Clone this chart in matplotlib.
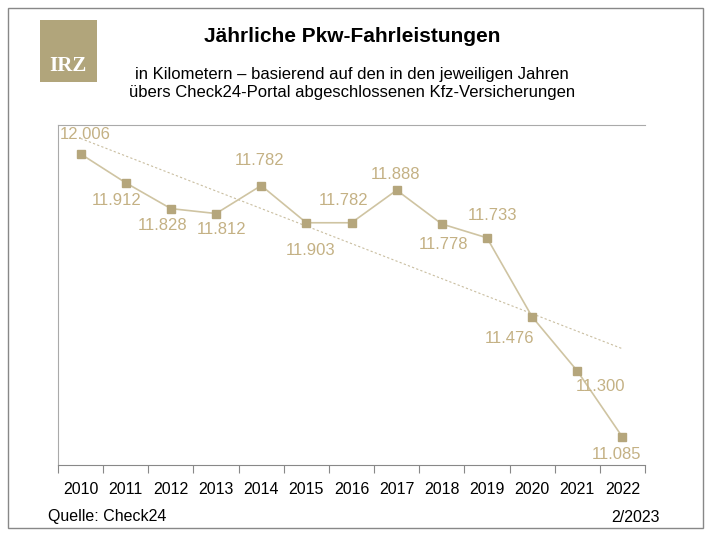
import numpy as np
import matplotlib
matplotlib.use('Agg')
import matplotlib.pyplot as plt
from matplotlib.patches import Rectangle

years = ["2010", "2011", "2012", "2013", "2014", "2015", "2016",
         "2017", "2018", "2019", "2020", "2021", "2022"]
km = [12006, 11912, 11828, 11812, 11903, 11782, 11782,
      11888, 11778, 11733, 11476, 11300, 11085]
# labels as printed in the original (2014/2015 appear swapped there)
labels = ["12.006", "11.912", "11.828", "11.812", "11.782", "11.903", "11.782",
          "11.888", "11.778", "11.733", "11.476", "11.300", "11.085"]

# label offsets in pixels (dx right, dy down)
offs = [(5, -19), (-9, 18), (-8, 17), (6, 16), (-2, -25), (4, 28), (-8, -22),
        (-1, -16), (2, 21), (6, -22), (-23, 22), (23, 16), (-6, 17)]

gold = "#b5a67c"
txt = "#c4b184"

W, H = 711, 533
fig = plt.figure(figsize=(W / 100, H / 100), dpi=100)
fig.patches.append(Rectangle((8 / W, 5 / H), 695 / W, 520 / H, transform=fig.transFigure,
                             fill=False, edgecolor="#888888", lw=1))
fig.patches.append(Rectangle((40 / W, 1 - 82 / H), 57 / W, 62 / H, transform=fig.transFigure,
                             facecolor="#b1a57b", edgecolor="none"))
fig.text(68 / W, 1 - 66 / H, "IRZ", color="white", fontsize=15, family="Liberation Serif",
         fontweight="bold", ha="center", va="center")

fig.text(352 / W, 1 - 36 / H, "Jährliche Pkw-Fahrleistungen", fontsize=15, fontweight="bold",
         ha="center", va="center", family="Liberation Sans")
fig.text(352 / W, 1 - 84 / H, "in Kilometern – basierend auf den in den jeweiligen Jahren\n"
         "übers Check24-Portal abgeschlossenen Kfz-Versicherungen",
         fontsize=12, ha="center", va="center", family="Liberation Sans", linespacing=1.25)

ax = fig.add_axes([58 / W, 1 - 465 / H, 587 / W, 340 / H])
x = np.arange(len(years))
coef = np.polyfit(x, km, 1)
ax.plot(x, np.polyval(coef, x), ls=(0, (2, 2)), color="#c9bea0", lw=0.8)
ax.plot(x, km, color="#cfc4a2", lw=1.2, marker="s", ms=6, mfc=gold, mec=gold)

for i, (v, l) in enumerate(zip(km, labels)):
    dx, dy = offs[i]
    ax.annotate(l, (i, v), xytext=(dx * 0.72, -dy * 0.72), textcoords="offset points",
                ha="center", va="center", color=txt, fontsize=12, family="Liberation Sans")

ax.set_xlim(-0.5, 12.5)
ax.set_ylim(10994, 12100)
ax.set_yticks([])
ax.set_xticks(np.arange(-0.5, 13, 1))
ax.set_xticklabels([])
ax.set_xticks(x, minor=True)
ax.set_xticklabels(years, minor=True, fontsize=11.5, family="Liberation Sans")
ax.tick_params(axis="x", which="minor", length=0, pad=12)
ax.tick_params(axis="x", which="major", length=6, color="#888888")
for s in ["left", "top"]:
    ax.spines[s].set_color("#aaaaaa")
ax.spines["right"].set_visible(False)
ax.spines["bottom"].set_color("#888888")

fig.text(48 / W, 1 - 517 / H, "Quelle: Check24", fontsize=11.5, va="center", family="Liberation Sans")
fig.text(660 / W, 1 - 517 / H, "2/2023", fontsize=11.5, va="center", ha="right", family="Liberation Sans")

fig.savefig("out.png", dpi=100)
